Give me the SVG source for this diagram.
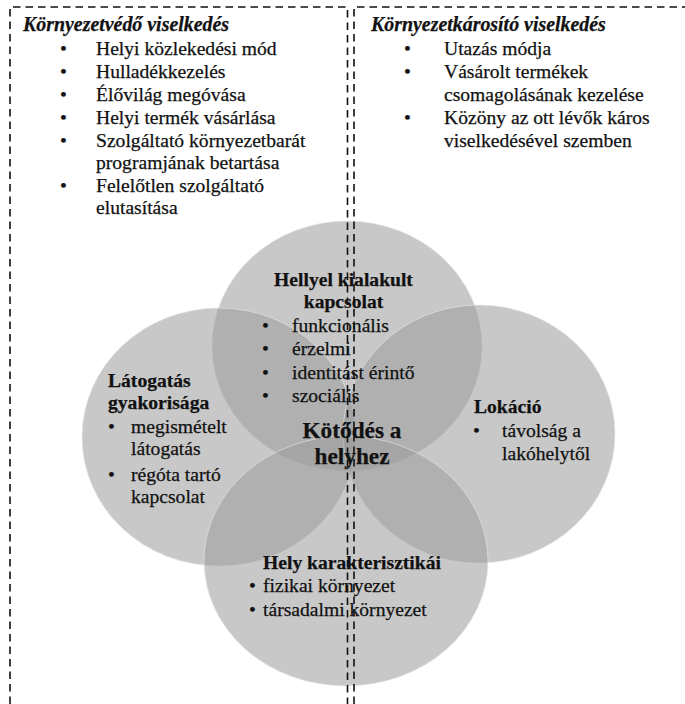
<svg xmlns="http://www.w3.org/2000/svg" width="685" height="704" viewBox="0 0 685 704" font-family="'Liberation Serif', 'Times New Roman', Tinos, 'DejaVu Serif', serif">
<style>
text{font-family:"Liberation Serif","Times New Roman",Tinos,"DejaVu Serif",serif;font-size:19.6px;fill:#111;font-weight:400;stroke:#111;stroke-width:0.25}
.h{font-weight:700}
.t{font-weight:700;font-style:italic;font-size:19.9px}
.big{font-weight:700;font-size:23.3px}
.c{fill:#9d9d9d;fill-opacity:0.56;stroke:#e8e8e8;stroke-opacity:0.6;stroke-width:1}
.box{fill:none;stroke:#111;stroke-width:1.6;stroke-dasharray:7.5 5}
</style>
<rect width="685" height="704" fill="#fff"/>
<g id="circles">
<g id="node-top"><ellipse class="c" cx="347" cy="346" rx="135" ry="125"/></g>
<g id="node-left"><ellipse class="c" cx="219" cy="437" rx="137" ry="129"/></g>
<g id="node-right"><ellipse class="c" cx="479" cy="434" rx="136" ry="129"/></g>
<g id="node-bottom"><ellipse class="c" cx="346" cy="561" rx="142" ry="125"/></g>
</g>
<g id="connectors">
<path class="box" d="M10,704 V7 H347.5 V704"/>
<path class="box" d="M354,704 V7 H686"/>
</g>
<g id="box-left">
<text class="t" x="23" y="31">Környezetvédő viselkedés</text>
<text x="60" y="55">•</text><text x="96" y="55">Helyi közlekedési mód</text>
<text x="60" y="78">•</text><text x="96" y="78">Hulladékkezelés</text>
<text x="60" y="101">•</text><text x="96" y="101">Élővilág megóvása</text>
<text x="60" y="124">•</text><text x="96" y="124">Helyi termék vásárlása</text>
<text x="60" y="147">•</text><text x="96" y="147">Szolgáltató környezetbarát</text>
<text x="96" y="169">programjának betartása</text>
<text x="60" y="192">•</text><text x="96" y="192">Felelőtlen szolgáltató</text>
<text x="96" y="214">elutasítása</text>
</g>
<g id="box-right">
<text class="t" x="371" y="31">Környezetkárosító viselkedés</text>
<text x="404" y="55">•</text><text x="444" y="55">Utazás módja</text>
<text x="404" y="78">•</text><text x="444" y="78">Vásárolt termékek</text>
<text x="444" y="101">csomagolásának kezelése</text>
<text x="404" y="124">•</text><text x="444" y="124">Közöny az ott lévők káros</text>
<text x="444" y="147">viselkedésével szemben</text>
</g>
<g id="label-top">
<text class="h" x="343.5" y="286" text-anchor="middle">Hellyel kialakult</text>
<text class="h" x="343.5" y="308" text-anchor="middle">kapcsolat</text>
<text x="262" y="332">•</text><text x="292" y="332">funkcionális</text>
<text x="262" y="355">•</text><text x="292" y="355">érzelmi</text>
<text x="262" y="379">•</text><text x="292" y="379">identitást érintő</text>
<text x="262" y="402">•</text><text x="292" y="402">szociális</text>
</g>
<g id="label-left">
<text class="h" x="108" y="387">Látogatás</text>
<text class="h" x="108" y="409">gyakorisága</text>
<text x="108" y="433">•</text><text x="131" y="433">megismételt</text>
<text x="131" y="455">látogatás</text>
<text x="108" y="481">•</text><text x="131" y="481">régóta tartó</text>
<text x="131" y="503">kapcsolat</text>
</g>
<g id="label-right">
<text class="h" x="474" y="413">Lokáció</text>
<text x="473" y="437">•</text><text x="502" y="437">távolság a</text>
<text x="502" y="460">lakóhelytől</text>
</g>
<g id="label-bottom">
<text class="h" x="263" y="569">Hely karakterisztikái</text>
<text x="249" y="592">•</text><text x="263" y="592">fizikai környezet</text>
<text x="249" y="616">•</text><text x="263" y="616">társadalmi környezet</text>
</g>
<g id="label-center">
<text class="big" x="352" y="438" text-anchor="middle">Kötődés a</text>
<text class="big" x="352" y="464" text-anchor="middle">helyhez</text>
</g>
</svg>
